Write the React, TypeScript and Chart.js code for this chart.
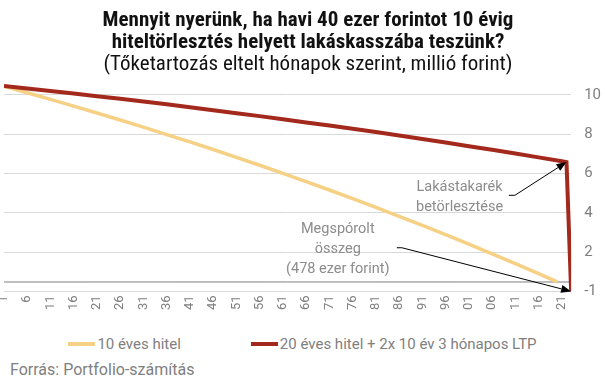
import React, { useEffect, useRef } from "react";
import { Chart, registerables } from "chart.js";

Chart.register(...registerables);

// ---- data ----
const titleLines = [
  "Mennyit nyerünk, ha havi 40 ezer forintot 10 évig",
  "hiteltörlesztés helyett lakáskasszába teszünk?",
];
const subtitleText = "(Tőketartozás eltelt hónapok szerint, millió forint)";
const sourceText = "Forrás: Portfolio-számítás";

const seriesNames = ["10 éves hitel", "20 éves hitel + 2x 10 év 3 hónapos LTP"];

const ltpMonths = [1, 6, 11, 16, 21, 26, 31, 36, 41, 46, 51, 56, 61, 66, 71, 76, 81, 86, 91, 96, 101, 106, 111, 116, 121, 122, 123];
const ltpDebt = [10.45, 10.32, 10.2, 10.07, 9.93, 9.8, 9.66, 9.52, 9.37, 9.22, 9.07, 8.92, 8.76, 8.6, 8.44, 8.28, 8.11, 7.93, 7.76, 7.58, 7.39, 7.21, 7.02, 6.82, 6.62, 6.58, 0];

const loanMonths = [1, 6, 11, 16, 21, 26, 31, 36, 41, 46, 51, 56, 61, 66, 71, 76, 81, 86, 91, 96, 101, 106, 111, 116, 120];
const loanDebt = [10.44, 10.11, 9.77, 9.43, 9.08, 8.72, 8.36, 7.98, 7.61, 7.22, 6.82, 6.42, 6.01, 5.59, 5.16, 4.72, 4.28, 3.82, 3.36, 2.89, 2.41, 1.91, 1.41, 0.9, 0.48];

const savedLevel = 0.478;
const firstMonth = 1;
const lastMonth = 123;

const xTickMonths = [1, 6, 11, 16, 21, 26, 31, 36, 41, 46, 51, 56, 61, 66, 71, 76, 81, 86, 91, 96, 101, 106, 111, 116, 121];
const xTickLabels = ["1", "6", "11", "16", "21", "26", "31", "36", "41", "46", "51", "56", "61", "66", "71", "76", "81", "86", "91", "96", "01", "06", "11", "16", "21"];
const yTickValues = [0, 2, 4, 6, 8, 10];
const yTickLabels = ["-1", "2", "4", "6", "8", "10"];

const noteLtpLines = ["Lakástakarék", "betörlesztése"];
const noteSavedLines = ["Megspórolt", "összeg", "(478 ezer forint)"];

// ---- styles ----
const YELLOW = "#F6D084";
const RED = "#A3291D";
const GRID = "#d9d9d9";
const BASE = "#7f7f7f";
const TICK = "#7f7f7f";
const NOTE = "#8c8c8c";
const NARROW = "'Liberation Sans Narrow', 'Roboto Condensed', Roboto";

// annotation placement in data units
const notes = [
  { lines: noteLtpLines, x: 99, ys: [5.3, 4.29] },
  { lines: noteSavedLines, x: 72.8, ys: [3.14, 2.12, 1.14] },
];
const arrows = [
  { from: [109.6, 4.89], bend: [110.9, 4.89], dataset: 0, index: 25 },
  { from: [85.5, 2.22], bend: [86.6, 2.22], dataset: 0, index: 26 },
];

const notesPlugin = {
  id: "notesPlugin",
  afterDatasetsDraw(chart: any) {
    const { ctx, scales } = chart;
    const x = scales.x;
    const y = scales.y;
    ctx.save();
    ctx.font = "14.5px Roboto";
    ctx.fillStyle = NOTE;
    ctx.textAlign = "center";
    ctx.textBaseline = "middle";
    notes.forEach((n) => {
      n.lines.forEach((t, i) => {
        ctx.fillText(t, x.getPixelForValue(n.x), y.getPixelForValue(n.ys[i]));
      });
    });
    ctx.strokeStyle = "#000";
    ctx.fillStyle = "#000";
    ctx.lineWidth = 1;
    arrows.forEach((a) => {
      const p = chart.getDatasetMeta(a.dataset).data[a.index];
      const x0 = x.getPixelForValue(a.from[0]);
      const y0 = y.getPixelForValue(a.from[1]);
      const x1 = x.getPixelForValue(a.bend[0]);
      const y1 = y.getPixelForValue(a.bend[1]);
      const tx = p.x;
      const ty = p.y;
      const ang = Math.atan2(ty - y1, tx - x1);
      const hl = 10;
      const hw = 4;
      const bx = tx - hl * Math.cos(ang);
      const by = ty - hl * Math.sin(ang);
      ctx.beginPath();
      ctx.moveTo(x0, y0);
      ctx.lineTo(x1, y1);
      ctx.lineTo(bx, by);
      ctx.stroke();
      ctx.beginPath();
      ctx.moveTo(tx, ty);
      ctx.lineTo(bx + hw * Math.sin(ang), by - hw * Math.cos(ang));
      ctx.lineTo(bx - hw * Math.sin(ang), by + hw * Math.cos(ang));
      ctx.closePath();
      ctx.fill();
    });
    ctx.restore();
  },
};

export default function App() {
  const ref = useRef<HTMLCanvasElement>(null);

  useEffect(() => {
    if (!ref.current) return;
    const chart = new Chart(ref.current, {
      type: "line",
      data: {
        datasets: [
          {
            label: seriesNames[1],
            data: ltpMonths.map((m, i) => ({ x: m, y: ltpDebt[i] })),
            borderColor: RED,
            borderWidth: 4,
            pointRadius: 0,
            tension: 0,
          },
          {
            label: seriesNames[0],
            data: loanMonths.map((m, i) => ({ x: m, y: loanDebt[i] })),
            borderColor: YELLOW,
            borderWidth: 3.5,
            pointRadius: 0,
            tension: 0,
          },
          {
            label: "saved",
            data: [
              { x: firstMonth, y: savedLevel },
              { x: lastMonth, y: savedLevel },
            ],
            borderColor: BASE,
            borderWidth: 1,
            pointRadius: 0,
          },
        ],
      },
      options: {
        responsive: false,
        animation: false,
        layout: { padding: { left: 2, right: -9, top: 0, bottom: 6 } },
        plugins: {
          legend: { display: false },
          tooltip: { enabled: false },
          title: {
            display: true,
            text: titleLines,
            color: "#111",
            font: { family: NARROW, size: 21, weight: "bold", lineHeight: 1.05 },
            padding: { top: 10, bottom: 0 },
          },
          subtitle: {
            display: true,
            text: subtitleText,
            color: "#111",
            font: { family: NARROW, size: 21, weight: "normal", lineHeight: 1.05 },
            padding: { top: 0, bottom: 4 },
          },
        },
        scales: {
          x: {
            type: "linear",
            min: firstMonth,
            max: lastMonth,
            grid: { display: false, drawTicks: false },
            border: { display: false },
            afterBuildTicks: (axis: any) => {
              axis.ticks = xTickMonths.map((v) => ({ value: v }));
            },
            ticks: {
              autoSkip: false,
              minRotation: 90,
              maxRotation: 90,
              padding: 4,
              color: TICK,
              font: { family: "Roboto", size: 13 },
              callback: (v: any) => {
                const i = xTickMonths.indexOf(Number(v));
                return i >= 0 ? xTickLabels[i] : "";
              },
            },
          },
          y: {
            type: "linear",
            position: "right",
            min: 0,
            max: 10.75,
            grid: { color: GRID, drawTicks: false, lineWidth: 1 },
            border: { display: false },
            afterBuildTicks: (axis: any) => {
              axis.ticks = yTickValues.map((v) => ({ value: v }));
            },
            ticks: {
              padding: 13,
              color: TICK,
              font: { family: "Roboto", size: 15 },
              callback: (v: any) => {
                const i = yTickValues.indexOf(Number(v));
                return i >= 0 ? yTickLabels[i] : "";
              },
            },
          },
        },
      },
      plugins: [notesPlugin],
    } as any);
    return () => chart.destroy();
  }, []);

  const legendItem = (color: string, text: string) => (
    <span style={{ display: "inline-flex", alignItems: "center" }}>
      <span style={{ display: "inline-block", width: 27, height: 4, background: color, marginRight: 2 }} />
      <span>{text}</span>
    </span>
  );

  return (
    <div style={{ position: "absolute", left: 0, top: 0, width: 605, height: 378, background: "#fff", fontFamily: "Roboto", color: "#808080" }}>
      <canvas ref={ref} width={605} height={320} style={{ position: "absolute", left: 0, top: 0 }} />
      <div
        style={{
          position: "absolute",
          left: 0,
          top: 334,
          width: 605,
          display: "flex",
          justifyContent: "center",
          gap: 70,
          fontSize: 15,
          lineHeight: "20px",
        }}
      >
        {legendItem(YELLOW, seriesNames[0])}
        {legendItem(RED, seriesNames[1])}
      </div>
      <div style={{ position: "absolute", left: 10, top: 361, fontSize: 16, lineHeight: "18px" }}>{sourceText}</div>
    </div>
  );
}
